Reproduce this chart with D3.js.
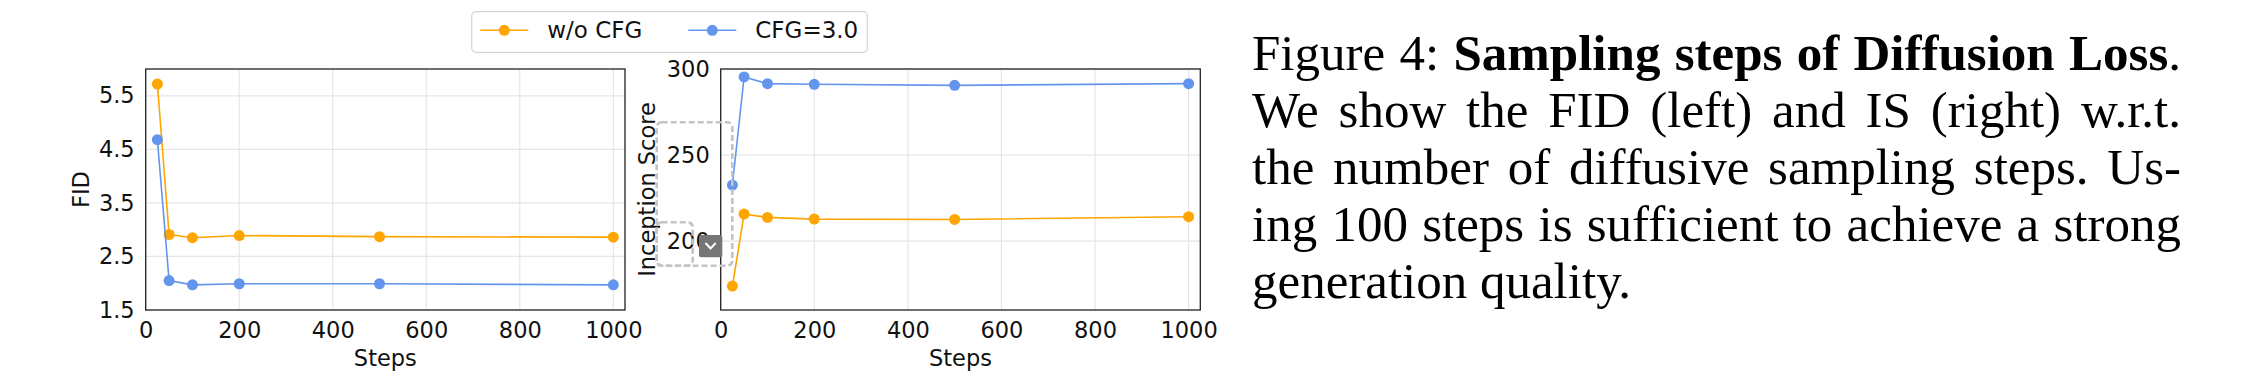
<!DOCTYPE html>
<html>
<head>
<meta charset="utf-8">
<script src="https://cdn.jsdelivr.net/npm/d3@7"></script>
<style>
  body { margin: 0; background: #fff; }
  svg text { white-space: pre; }
</style>
</head>
<body>
<svg id="fig" width="2246" height="380"></svg>
<script>
// values
var steps = [25, 50, 100, 200, 500, 1000]
var fidNoCfg = [5.72, 2.91, 2.85, 2.89, 2.87, 2.86]
var fidCfg = [4.68, 2.05, 1.97, 1.99, 1.99, 1.97]
var isNoCfg = [173.9, 215.7, 213.8, 212.8, 212.6, 214.2]
var isCfg = [232.6, 295.4, 291.5, 291.1, 290.5, 291.5]

var xTicks = [0, 200, 400, 600, 800, 1000]
var fidTicks = [1.5, 2.5, 3.5, 4.5, 5.5]
var isTicks = [200, 250, 300]
var seriesNames = ["w/o CFG", "CFG=3.0"]

var captionLines = [
  [["Figure 4: ", false], ["Sampling steps of Diffusion Loss", true], [".", false]],
  [["We show the FID (left) and IS (right) w.r.t.", false]],
  [["the number of diffusive sampling steps. Us-", false]],
  [["ing 100 steps is sufficient to achieve a strong", false]],
  [["generation quality.", false]]
]

var colors = ["orange", "cornflowerblue"]
var sans = "DejaVu Sans"
var fs = 22.5
var svg = d3.select("#fig")

function drawPanel(box, yDomain, yTicks, yFmt, seriesA, seriesB, yLabel, labelX) {
  var x = d3.scaleLinear().domain([0, 1025]).range([box.left, box.right])
  var y = d3.scaleLinear().domain(yDomain).range([box.bottom, box.top])
  var g = svg.append("g")

  // grid
  g.selectAll("line.vgrid").data(xTicks).enter().append("line")
    .attr("x1", d => x(d)).attr("x2", d => x(d))
    .attr("y1", box.top).attr("y2", box.bottom)
    .attr("stroke", "#e6e6e6").attr("stroke-width", 1.2)
  g.selectAll("line.hgrid").data(yTicks).enter().append("line")
    .attr("x1", box.left).attr("x2", box.right)
    .attr("y1", d => y(d)).attr("y2", d => y(d))
    .attr("stroke", "#e6e6e6").attr("stroke-width", 1.2)

  var xAxis = d3.axisBottom(x).tickValues(xTicks).tickSize(0).tickPadding(12).tickFormat(d3.format("d"))
  g.append("g").attr("transform", "translate(0," + box.bottom + ")").call(xAxis)
    .call(a => a.select(".domain").remove())
    .selectAll("text").attr("font-family", sans).attr("font-size", fs).attr("fill", "#111")

  var yAxis = d3.axisLeft(y).tickValues(yTicks).tickSize(0).tickPadding(11).tickFormat(yFmt)
  g.append("g").attr("transform", "translate(" + box.left + ",0)").call(yAxis)
    .call(a => a.select(".domain").remove())
    .selectAll("text").attr("font-family", sans).attr("font-size", fs).attr("fill", "#111")

  // series
  var line = d3.line().x(d => x(d[0])).y(d => y(d[1]))
  ;[seriesA, seriesB].forEach(function (vals, i) {
    var pts = steps.map((s, k) => [s, vals[k]])
    g.append("path").attr("d", line(pts)).attr("fill", "none")
      .attr("stroke", colors[i]).attr("stroke-width", 1.6)
    g.selectAll("circle.s" + i).data(pts).enter().append("circle")
      .attr("cx", d => x(d[0])).attr("cy", d => y(d[1])).attr("r", 5.5)
      .attr("fill", colors[i])
  })

  // frame
  g.append("rect").attr("x", box.left).attr("y", box.top)
    .attr("width", box.right - box.left).attr("height", box.bottom - box.top)
    .attr("fill", "none").attr("stroke", "#222").attr("stroke-width", 1.3)

  g.append("text").attr("x", (box.left + box.right) / 2).attr("y", 366)
    .attr("text-anchor", "middle").attr("font-family", sans).attr("font-size", fs)
    .attr("fill", "#111").text("Steps")
  g.append("text").attr("transform", "translate(" + labelX + "," + (box.top + box.bottom) / 2 + ") rotate(-90)")
    .attr("text-anchor", "middle").attr("font-family", sans).attr("font-size", fs)
    .attr("fill", "#111").text(yLabel)
}

drawPanel({left: 145.7, right: 625, top: 69, bottom: 310}, [1.5, 6.0], fidTicks, d3.format(".1f"),
  fidNoCfg, fidCfg, "FID", 89)
drawPanel({left: 720.7, right: 1200.3, top: 69, bottom: 310}, [160, 300], isTicks, d3.format("d"),
  isNoCfg, isCfg, "Inception Score", 654.5)

// legend
var leg = svg.append("g")
leg.append("rect").attr("x", 471.7).attr("y", 11.7).attr("width", 395.6).attr("height", 40.6)
  .attr("rx", 4).attr("fill", "#fff").attr("stroke", "#d4d4d4").attr("stroke-width", 1.2)
var legX = [480.3, 688.3]
seriesNames.forEach(function (name, i) {
  leg.append("line").attr("x1", legX[i]).attr("x2", legX[i] + 48).attr("y1", 30.3).attr("y2", 30.3)
    .attr("stroke", colors[i]).attr("stroke-width", 1.6)
  leg.append("circle").attr("cx", legX[i] + 24).attr("cy", 30.3).attr("r", 5.5).attr("fill", colors[i])
  leg.append("text").attr("x", legX[i] + 67).attr("y", 38.3).attr("font-family", sans)
    .attr("font-size", 23).attr("fill", "#111").text(name)
})

// screenshot overlay that sits on the right panel's y axis
var ov = svg.append("g")
ov.append("rect").attr("x", 656.7).attr("y", 122.3).attr("width", 75.6).attr("height", 143.4).attr("rx", 5)
  .attr("fill", "none").attr("stroke", "#c4c4c4").attr("stroke-width", 2.6).attr("stroke-dasharray", "6,3")
ov.append("rect").attr("x", 656.7).attr("y", 222.3).attr("width", 36).attr("height", 43.4).attr("rx", 5)
  .attr("fill", "none").attr("stroke", "#c4c4c4").attr("stroke-width", 2.6).attr("stroke-dasharray", "6,3")
ov.append("rect").attr("x", 699).attr("y", 235).attr("width", 23.3).attr("height", 22.3).attr("rx", 2)
  .attr("fill", "#767676")
ov.append("path").attr("d", "M705.5,243 L710.6,248.5 L715.7,243").attr("fill", "none")
  .attr("stroke", "#fff").attr("stroke-width", 2)

// caption, justified line by line
var capLeft = 1252, capWidth = 929
captionLines.forEach(function (parts, i) {
  var t = svg.append("text").attr("x", capLeft).attr("y", 70 + i * 56.9)
    .attr("font-family", "Liberation Serif").attr("font-size", 51).attr("fill", "#000")
  parts.forEach(p => t.append("tspan").attr("font-weight", p[1] ? "bold" : "normal").text(p[0]))
  if (i < captionLines.length - 1) {
    var full = parts.map(p => p[0]).join("")
    var gaps = full.trim().split(" ").length - 1
    var w = t.node().getComputedTextLength()
    t.attr("word-spacing", (capWidth - w) / gaps)
  }
})
</script>
</body>
</html>
